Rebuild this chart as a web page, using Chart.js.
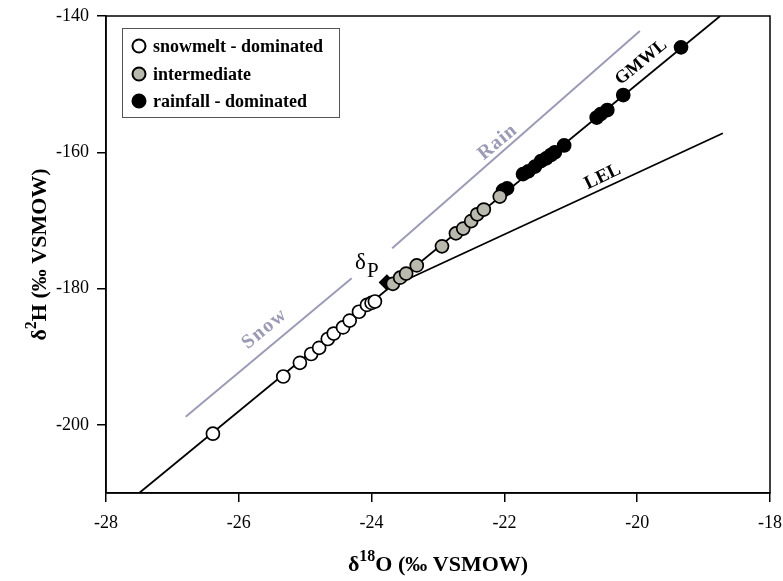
<!DOCTYPE html>
<html>
<head>
<meta charset="utf-8">
<script src="https://cdn.jsdelivr.net/npm/chart.js@4.4.0/dist/chart.umd.min.js"></script>
<style>
  html, body { margin: 0; padding: 0; background: #fff; }
</style>
</head>
<body>
<canvas id="isoChart" width="783" height="581"></canvas>
<script>
// --- data (δ18O, δ2H in ‰ VSMOW) ---
const snowmeltO = [-26.39, -25.33, -25.08, -24.91, -24.79, -24.66, -24.57, -24.43, -24.33, -24.19, -24.07, -24.00, -23.95];
const snowmeltH = [-201.3, -192.9, -190.9, -189.6, -188.7, -187.4, -186.6, -185.7, -184.7, -183.4, -182.4, -182.1, -181.9];

const intermediateO = [-23.68, -23.57, -23.48, -23.32, -22.94, -22.73, -22.62, -22.50, -22.41, -22.31, -22.07];
const intermediateH = [-179.3, -178.4, -177.8, -176.6, -173.8, -171.9, -171.2, -170.1, -169.1, -168.4, -166.5];

const rainfallO = [-22.02, -21.96, -21.72, -21.64, -21.54, -21.45, -21.37, -21.30, -21.24, -21.10, -20.61, -20.55, -20.45, -20.21, -19.34];
const rainfallH = [-165.6, -165.3, -163.2, -162.8, -162.1, -161.3, -160.9, -160.4, -160.0, -159.0, -154.9, -154.4, -153.8, -151.6, -144.6];

const deltaPO = [-23.77];
const deltaPH = [-179.1];

// reference lines
const gmwlO = [-27.5, -18.75];
const gmwlH = [-210, -140];
const lelO = [-23.72, -18.71];
const lelH = [-179.8, -157.2];
const snowLineO = [-26.80, -24.30];
const snowLineH = [-198.8, -178.5];
const rainLineO = [-23.69, -19.96];
const rainLineH = [-174.1, -142.2];

// axes
const xTicks = [-28, -26, -24, -22, -20, -18];
const yTicks = [-200, -180, -160, -140];
const xRange = [-28, -18];
const yRange = [-210, -140];

const pts = (xs, ys) => xs.map((x, i) => ({ x: x, y: ys[i] }));

const SERIF = '"Liberation Serif", "Times New Roman", serif';
const LAVENDER = '#9b9bb6';
const GREY_FILL = '#b9b9ad';

// text placed on the plot (positions in data units)
const notes = [
    { text: 'Snow', x: -25.61, y: -185.9, angle: -39.5, color: LAVENDER, size: 20, spacing: '1.5px' },
    { text: 'Rain', x: -22.10, y: -158.5, angle: -39.5, color: LAVENDER, size: 20, spacing: '1px' },
    { text: 'GMWL', x: -19.94, y: -146.8, angle: -39.5, color: '#000', size: 18, spacing: '0px' },
    { text: 'LEL', x: -20.52, y: -163.6, angle: -26, color: '#000', size: 19, spacing: '0px' }
];

const legendRows = [
    { label: 'snowmelt - dominated', fill: '#ffffff' },
    { label: 'intermediate', fill: GREY_FILL },
    { label: 'rainfall - dominated', fill: '#000000' }
];

const decorPlugin = {
    id: 'decor',
    afterDatasetsDraw(chart) {
        const ctx = chart.ctx;
        const a = chart.chartArea;
        const xs = chart.scales.x, ys = chart.scales.y;
        ctx.save();

        // frame
        ctx.strokeStyle = '#000';
        ctx.lineWidth = 1.5;
        ctx.strokeRect(a.left, a.top, a.right - a.left, a.bottom - a.top);

        // line labels
        notes.forEach(n => {
            ctx.save();
            ctx.translate(xs.getPixelForValue(n.x), ys.getPixelForValue(n.y));
            ctx.rotate(n.angle * Math.PI / 180);
            ctx.font = 'bold ' + n.size + 'px ' + SERIF;
            ctx.letterSpacing = n.spacing;
            ctx.fillStyle = n.color;
            ctx.textAlign = 'center';
            ctx.textBaseline = 'middle';
            ctx.fillText(n.text, 0, 0);
            ctx.restore();
        });

        // δP
        const px = xs.getPixelForValue(-24.13), py = ys.getPixelForValue(-176.3);
        ctx.fillStyle = '#000';
        ctx.textBaseline = 'middle';
        ctx.textAlign = 'left';
        ctx.font = '23px ' + SERIF;
        ctx.fillText('δ', px - 8, py);
        ctx.font = '21px ' + SERIF;
        ctx.fillText('P', px + 4, py + 8);

        // legend box
        ctx.strokeStyle = '#555';
        ctx.lineWidth = 1;
        ctx.strokeRect(122.5, 28.5, 217, 89);
        legendRows.forEach((r, i) => {
            const cy = [46, 74, 101][i];
            ctx.beginPath();
            ctx.arc(139, cy, 6.5, 0, Math.PI * 2);
            ctx.fillStyle = r.fill;
            ctx.fill();
            ctx.lineWidth = 2;
            ctx.strokeStyle = '#000';
            ctx.stroke();
            ctx.fillStyle = '#000';
            ctx.font = 'bold 18px ' + SERIF;
            ctx.textAlign = 'left';
            ctx.textBaseline = 'middle';
            ctx.fillText(r.label, 153, cy + 1);
        });

        // axis titles
        const drawTitle = (sup) => {
            const parts = [
                { t: 'δ', f: 'bold 22px ' + SERIF, dy: 0 },
                { t: sup, f: 'bold 16px ' + SERIF, dy: -10 },
                { t: sup === '18' ? 'O (‰ VSMOW)' : 'H (‰ VSMOW)', f: 'bold 22px ' + SERIF, dy: 0 }
            ];
            let w = 0;
            parts.forEach(p => { ctx.font = p.f; w += ctx.measureText(p.t).width; });
            let x = -w / 2;
            ctx.textAlign = 'left';
            ctx.textBaseline = 'alphabetic';
            ctx.fillStyle = '#000';
            parts.forEach(p => {
                ctx.font = p.f;
                ctx.fillText(p.t, x, p.dy);
                x += ctx.measureText(p.t).width;
            });
        };
        ctx.save();
        ctx.translate((a.left + a.right) / 2, 571);
        drawTitle('18');
        ctx.restore();
        ctx.save();
        ctx.translate(46, (a.top + a.bottom) / 2);
        ctx.rotate(-Math.PI / 2);
        drawTitle('2');
        ctx.restore();

        ctx.restore();
    }
};

const lineSet = (data, color, width, order) => ({
    type: 'line', data: data, borderColor: color, borderWidth: width,
    pointRadius: 0, fill: false, showLine: true, order: order
});

const markerSet = (data, fill, style, radius, order) => ({
    type: 'scatter', data: data, backgroundColor: fill, borderColor: '#000',
    borderWidth: 1.7, pointRadius: radius, pointHoverRadius: radius,
    pointStyle: style, order: order
});

new Chart(document.getElementById('isoChart').getContext('2d'), {
    type: 'scatter',
    data: {
        datasets: [
            lineSet(pts(snowLineO, snowLineH), LAVENDER, 2, 10),
            lineSet(pts(rainLineO, rainLineH), LAVENDER, 2, 10),
            lineSet(pts(gmwlO, gmwlH), '#000', 1.8, 9),
            lineSet(pts(lelO, lelH), '#000', 1.8, 9),
            markerSet(pts(deltaPO, deltaPH), '#000', 'rectRot', 7, 8),
            markerSet(pts(rainfallO, rainfallH), '#000', 'circle', 6.5, 7),
            markerSet(pts(snowmeltO, snowmeltH), '#fff', 'circle', 6.5, 6),
            markerSet(pts(intermediateO, intermediateH), GREY_FILL, 'circle', 6.5, 5)
        ]
    },
    options: {
        responsive: false,
        animation: false,
        devicePixelRatio: 1,
        layout: { padding: { top: 16, right: 13, left: 0, bottom: 0 } },
        plugins: {
            legend: { display: false },
            tooltip: { enabled: false }
        },
        scales: {
            x: {
                type: 'linear',
                min: xRange[0], max: xRange[1],
                afterBuildTicks: s => { s.ticks = xTicks.map(v => ({ value: v })); },
                afterFit: s => { s.height = 88; s.paddingLeft = 0; s.paddingRight = 0; },
                grid: { display: true, drawOnChartArea: false, drawTicks: true, tickLength: 9, color: '#000', lineWidth: 1.5 },
                border: { display: true, color: '#000', width: 1.5 },
                ticks: { color: '#000', padding: 10, maxRotation: 0, font: { family: SERIF, size: 18 } }
            },
            y: {
                type: 'linear',
                min: yRange[0], max: yRange[1],
                afterBuildTicks: s => { s.ticks = yTicks.map(v => ({ value: v })); },
                afterFit: s => { s.width = 106; s.paddingTop = 0; s.paddingBottom = 0; },
                grid: { display: true, drawOnChartArea: false, drawTicks: true, tickLength: 9, color: '#000', lineWidth: 1.5 },
                border: { display: true, color: '#000', width: 1.5 },
                ticks: { color: '#000', padding: 8, font: { family: SERIF, size: 18 } }
            }
        }
    },
    plugins: [decorPlugin]
});
</script>
</body>
</html>
